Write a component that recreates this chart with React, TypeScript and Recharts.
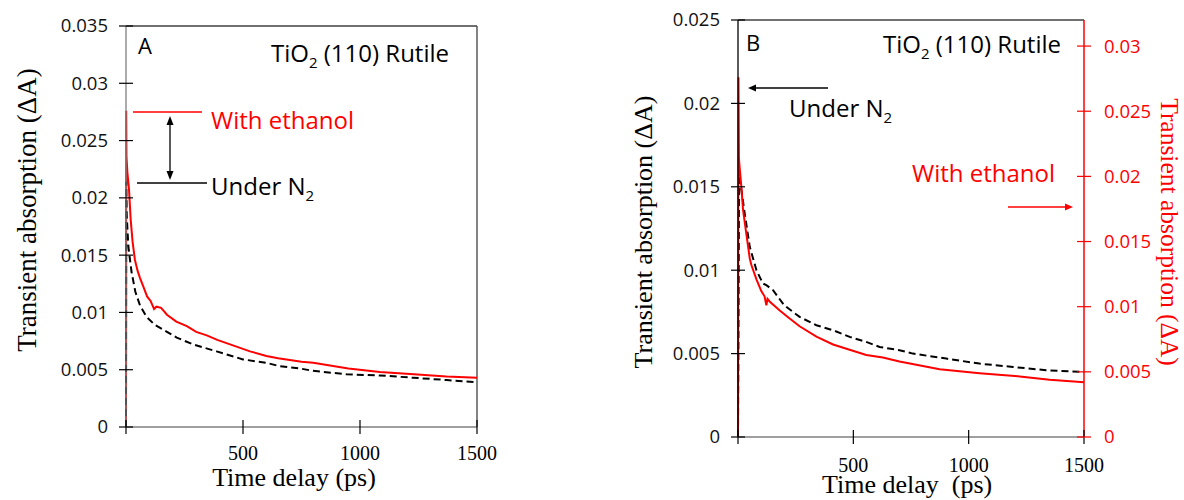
import React from 'react';
import { LineChart, Line, XAxis, YAxis, ReferenceLine } from 'recharts';

const SANS = "'Open Sans', sans-serif";
const SERIF = "'Liberation Serif', 'Times New Roman', serif";
const RED = '#ff0000';

const TIME_TICKS = [0, 500, 1000, 1500];
const Y_TICKS_A = [0, 0.005, 0.01, 0.015, 0.02, 0.025, 0.03, 0.035];
const Y_TICKS_B_LEFT = [0, 0.005, 0.01, 0.015, 0.02, 0.025];
const Y_TICKS_B_RIGHT = [0, 0.005, 0.01, 0.015, 0.02, 0.025, 0.03];

// Panel A - with ethanol
const A_ETHANOL_T = [0, 1, 2, 6, 13, 20, 28, 38, 50, 60, 75, 90, 105, 120, 130, 150, 175, 215, 260, 300, 345, 390, 460, 530, 600, 650, 750, 800, 950, 1085, 1230, 1370, 1500];
const A_ETHANOL_V = [0, 0.0276, 0.0236, 0.0222, 0.0207, 0.0181, 0.0162, 0.0146, 0.0136, 0.013, 0.0122, 0.0114, 0.011, 0.0103, 0.0105, 0.0104, 0.0098, 0.0092, 0.0088, 0.0083, 0.008, 0.0076, 0.0071, 0.0066, 0.0062, 0.006, 0.0057, 0.0056, 0.0051, 0.0048, 0.0046, 0.0044, 0.0043];

// Panel A - under N2
const A_N2_T = [0, 1, 3, 10, 17, 24, 40, 60, 88, 124, 175, 217, 288, 387, 500, 600, 658, 745, 800, 943, 1085, 1227, 1370, 1500];
const A_N2_V = [0, 0.0214, 0.0185, 0.0158, 0.0146, 0.0135, 0.0118, 0.0106, 0.0096, 0.0089, 0.0083, 0.0078, 0.0072, 0.0066, 0.0059, 0.0056, 0.0053, 0.0051, 0.0049, 0.0046, 0.0045, 0.0043, 0.0041, 0.0039];

// Panel B - with ethanol (right axis)
const B_ETHANOL_T = [0, 2, 4, 8, 15, 22, 36, 51, 58, 80, 101, 115, 123, 128, 137, 181, 224, 267, 340, 412, 484, 556, 628, 700, 874, 1047, 1221, 1351, 1500];
const B_ETHANOL_V = [0, 0.0276, 0.0214, 0.0205, 0.0191, 0.0174, 0.0156, 0.0137, 0.0132, 0.0121, 0.0112, 0.0108, 0.0101, 0.0106, 0.0104, 0.0097, 0.0091, 0.0085, 0.0077, 0.0071, 0.0067, 0.0063, 0.0061, 0.0058, 0.0052, 0.0049, 0.00465, 0.0044, 0.0042];

// Panel B - under N2 (left axis)
const B_N2_T = [0, 5, 15, 29, 51, 80, 108, 123, 152, 200, 267, 340, 412, 484, 556, 614, 700, 758, 903, 1047, 1192, 1336, 1500];
const B_N2_V = [0, 0.0157, 0.0148, 0.0134, 0.0114, 0.01, 0.0092, 0.0091, 0.0088, 0.0079, 0.0072, 0.0067, 0.0064, 0.006, 0.0057, 0.0054, 0.0052, 0.005, 0.0047, 0.0044, 0.0042, 0.004, 0.0039];

const toRows = (t: number[], v: number[]) => t.map((time, i) => ({ t: time, v: v[i] }));

// ticks that cross the axis line, like the original Excel plot
const makeYTick = (side: 'left' | 'right', color: string) => (props: any) => {
  const { x, y, payload } = props;
  const left = side === 'left';
  return (
    <g>
      <line x1={x - 7} x2={x + 7} y1={y} y2={y} stroke={left ? '#000' : RED} strokeWidth={1.2} />
      <text
        x={left ? x - 18 : x + 20}
        y={y}
        dy="0.35em"
        textAnchor={left ? 'end' : 'start'}
        fontFamily={SANS}
        fontSize={18.5}
        fill={color}
      >
        {String(payload.value)}
      </text>
    </g>
  );
};

const makeXTick = (offset: number) => (props: any) => {
  const { x, y, payload } = props;
  return (
    <g>
      <line x1={x} x2={x} y1={y - 7} y2={y + 7} stroke="#000" strokeWidth={1.2} />
      {payload.value !== 0 && (
        <text x={x} y={y + offset} textAnchor="middle" fontFamily={SERIF} fontSize={20} fill="#000">
          {String(payload.value)}
        </text>
      )}
    </g>
  );
};

const PanelA: React.FC = () => (
  <LineChart width={560} height={500} margin={{ top: 26, right: 83, left: 0, bottom: 0 }}>
    <XAxis
      type="number"
      dataKey="t"
      domain={[0, 1500]}
      ticks={TIME_TICKS}
      interval={0}
      height={73}
      tickSize={0}
      tickMargin={0}
      tickLine={false}
      tick={makeXTick(33)}
      axisLine={{ stroke: '#7f7f7f', strokeWidth: 1.3 }}
    />
    <YAxis
      type="number"
      domain={[0, 0.035]}
      ticks={Y_TICKS_A}
      interval={0}
      width={126}
      tickSize={0}
      tickMargin={0}
      tickLine={false}
      tick={makeYTick('left', '#111')}
      axisLine={{ stroke: '#7f7f7f', strokeWidth: 1.3 }}
    />
    <ReferenceLine y={0.035} stroke="#404040" strokeWidth={1.3} />
    <ReferenceLine x={1500} stroke="#404040" strokeWidth={1.3} />
    <Line
      data={toRows(A_ETHANOL_T, A_ETHANOL_V)}
      dataKey="v"
      type="linear"
      stroke={RED}
      strokeWidth={2}
      dot={false}
      isAnimationActive={false}
    />
    <Line
      data={toRows(A_N2_T, A_N2_V)}
      dataKey="v"
      type="linear"
      stroke="#000"
      strokeWidth={2}
      strokeDasharray="7 4"
      dot={false}
      isAnimationActive={false}
    />
  </LineChart>
);

const PanelB: React.FC = () => (
  <LineChart width={584} height={500} margin={{ top: 20, right: 0, left: 0, bottom: 0 }}>
    <XAxis
      type="number"
      dataKey="t"
      domain={[0, 1500]}
      ticks={TIME_TICKS}
      interval={0}
      height={63}
      tickSize={0}
      tickMargin={0}
      tickLine={false}
      tick={makeXTick(35)}
      axisLine={{ stroke: '#7f7f7f', strokeWidth: 1.3 }}
    />
    <YAxis
      yAxisId="left"
      type="number"
      domain={[0, 0.025]}
      ticks={Y_TICKS_B_LEFT}
      interval={0}
      width={138}
      tickSize={0}
      tickMargin={0}
      tickLine={false}
      tick={makeYTick('left', '#111')}
      axisLine={{ stroke: '#000', strokeWidth: 1.3 }}
    />
    <YAxis
      yAxisId="right"
      orientation="right"
      type="number"
      domain={[0, 0.032]}
      ticks={Y_TICKS_B_RIGHT}
      interval={0}
      width={100}
      tickSize={0}
      tickMargin={0}
      tickLine={false}
      tick={makeYTick('right', RED)}
      axisLine={{ stroke: RED, strokeWidth: 1.5 }}
    />
    <ReferenceLine yAxisId="left" y={0.025} stroke="#404040" strokeWidth={1.3} />
    <Line
      yAxisId="left"
      data={toRows(B_N2_T, B_N2_V)}
      dataKey="v"
      type="linear"
      stroke="#000"
      strokeWidth={2}
      strokeDasharray="7 4"
      dot={false}
      isAnimationActive={false}
    />
    <Line
      yAxisId="right"
      data={toRows(B_ETHANOL_T, B_ETHANOL_V)}
      dataKey="v"
      type="linear"
      stroke={RED}
      strokeWidth={2}
      dot={false}
      isAnimationActive={false}
    />
  </LineChart>
);

const Sub: React.FC<{ children: React.ReactNode }> = ({ children }) => (
  <tspan fontSize={15} dy={6}>{children}</tspan>
);

// titles, labels and arrows drawn over both panels
const Annotations: React.FC = () => (
  <svg width={1184} height={500} style={{ position: 'absolute', left: 0, top: 0, pointerEvents: 'none' }}>
    {/* axis titles */}
    <text transform="translate(36,210) rotate(-90)" textAnchor="middle" fontFamily={SERIF} fontSize={27} fill="#000">
      Transient absorption (ΔA)
    </text>
    <text x={294} y={486} textAnchor="middle" fontFamily={SERIF} fontSize={26} fill="#000">
      Time delay (ps)
    </text>
    <text transform="translate(652,232) rotate(-90)" textAnchor="middle" fontFamily={SERIF} fontSize={26} fill="#000">
      Transient absorption (ΔA)
    </text>
    <text transform="translate(1161,232) rotate(90)" textAnchor="middle" fontFamily={SERIF} fontSize={25.5} fill={RED}>
      Transient absorption (ΔA)
    </text>
    <text x={822} y={493} fontFamily={SERIF} fontSize={26} fill="#000">
      {'Time delay\u00a0 (ps)'}
    </text>

    {/* panel A */}
    <g fontFamily={SANS} fontSize={24}>
      <text x={138} y={54} fontSize={22} fill="#000">A</text>
      <text x={271} y={62} fill="#000">
        TiO<Sub>2</Sub>
        <tspan dy={-6}>{' (110) Rutile'}</tspan>
      </text>
      <line x1={133} x2={202} y1={112} y2={112} stroke={RED} strokeWidth={1.5} />
      <line x1={137} x2={207} y1={183} y2={183} stroke="#000" strokeWidth={1.5} />
      <line x1={170} x2={170} y1={122} y2={174} stroke="#000" strokeWidth={1.3} />
      <polygon points="170,116 166.5,125 173.5,125" fill="#000" />
      <polygon points="170,180 166.5,171 173.5,171" fill="#000" />
      <text x={211} y={129} fill={RED}>With ethanol</text>
      <text x={211} y={195} fill="#000">
        Under N<Sub>2</Sub>
      </text>
    </g>

    {/* panel B */}
    <g fontFamily={SANS} fontSize={24}>
      <text x={746} y={51} fontSize={22} fill="#000">B</text>
      <text x={883} y={53} fill="#000">
        TiO<Sub>2</Sub>
        <tspan dy={-6}>{' (110) Rutile'}</tspan>
      </text>
      <line x1={754} x2={828} y1={88} y2={88} stroke="#000" strokeWidth={1.3} />
      <polygon points="748,88 756,84.5 756,91.5" fill="#000" />
      <text x={789} y={117} fill="#000">
        Under N<Sub>2</Sub>
      </text>
      <text x={912} y={182} fill={RED}>With ethanol</text>
      <line x1={1008} x2={1067} y1={207} y2={207} stroke={RED} strokeWidth={1.3} />
      <polygon points="1073,207 1065,203.5 1065,210.5" fill={RED} />
    </g>
  </svg>
);

const App: React.FC = () => {
  return (
    <div style={{ position: 'absolute', left: 0, top: 0, width: 1184, height: 500, background: '#fff' }}>
      <div style={{ position: 'absolute', left: 0, top: 0 }}>
        <PanelA />
      </div>
      <div style={{ position: 'absolute', left: 600, top: 0 }}>
        <PanelB />
      </div>
      <Annotations />
    </div>
  );
};

export default App;
